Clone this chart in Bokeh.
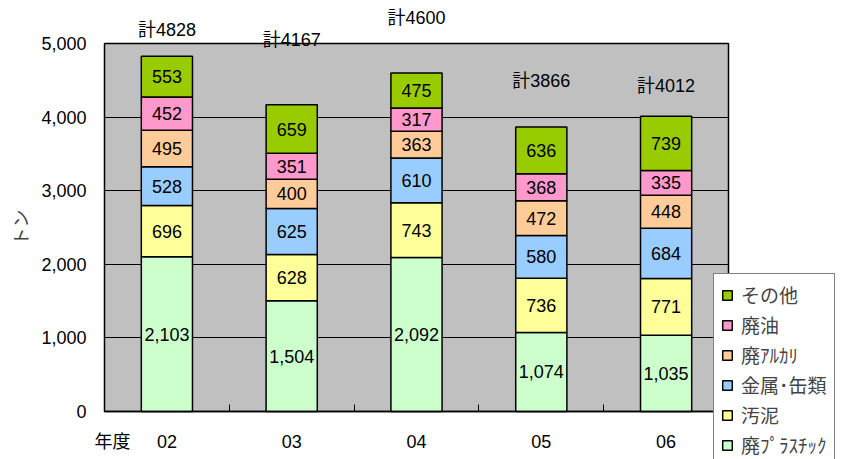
from bokeh.plotting import figure
from bokeh.models import (Range1d, FixedTicker, NumeralTickFormatter, Legend, LegendItem,
                          ColumnDataSource, Label)
from bokeh.embed import file_html
from bokeh.resources import INLINE
from bokeh.core.properties import value
import numpy as np

years = ["02", "03", "04", "05", "06"]
series_names = ["廃ﾌﾟﾗｽﾁｯｸ", "汚泥", "金属･缶類", "廃ｱﾙｶﾘ", "廃油", "その他"]
plastic = [2103, 1504, 2092, 1074, 1035]
sludge = [696, 628, 743, 736, 771]
metal = [528, 625, 610, 580, 684]
alkali = [495, 400, 363, 472, 448]
oil = [452, 351, 317, 368, 335]
other = [553, 659, 475, 636, 739]
totals = [4828, 4167, 4600, 3866, 4012]
y_ticks = [0, 1000, 2000, 3000, 4000, 5000]

colors = ["#ccffcc", "#ffff99", "#99ccff", "#ffcc99", "#ff99cc", "#99cc00"]
# vertical placement of the total labels (data units), as in the original layout
total_label_y = [5177, 5041, 5340, 4497, 4429]

JP = "Noto Sans CJK JP"
NUM = "Liberation Sans"
MIX = "Liberation Sans, Noto Sans CJK JP"
series = [plastic, sludge, metal, alkali, oil, other]
xs = list(range(1, len(years) + 1))
n = len(years)
ymax = y_ticks[-1]

# pixel geometry of the plotting area inside the 841x459 canvas
W, H = 841, 459
left_px, right_px, top_px, bottom_px = 104, 728, 43, 411
ux = (right_px - left_px) / n            # px per category
uy = (bottom_px - top_px) / ymax         # px per ton
x0 = 0.5 - left_px / ux
x1 = n + 0.5 + (W - right_px) / ux
y0 = -(H - bottom_px) / uy
y1 = ymax + top_px / uy

p = figure(width=W, height=H, output_backend="svg", toolbar_location=None,
           x_range=Range1d(x0, x1), y_range=Range1d(y0, y1),
           min_border=0, min_border_left=0, min_border_right=0,
           min_border_top=0, min_border_bottom=0)
p.background_fill_color = "white"
p.border_fill_color = "white"
p.outline_line_color = None

# gray plot area
p.quad(left=[0.5], right=[n + 0.5], bottom=[0], top=[ymax], fill_color="#c0c0c0",
       line_color="black", line_width=1.5, level="image")

data = {"x": xs}
keys = []
for i, s in enumerate(series):
    k = f"s{i}"
    data[k] = s
    keys.append(k)
src = ColumnDataSource(data)
renderers = p.vbar_stack(keys, x="x", width=0.41, source=src, fill_color=colors,
                         line_color="black", line_width=1.5)

# segment labels
bottoms = np.zeros(n)
for s in series:
    arr = np.array(s, dtype=float)
    mids = bottoms + arr / 2
    lsrc = ColumnDataSource(dict(x=xs, y=mids, t=[f"{v:,}" for v in s]))
    p.text(x="x", y="y", text="t", source=lsrc, text_align="center", text_baseline="middle",
           text_font=value(NUM), text_font_size="18px", text_color="black")
    bottoms = bottoms + arr

for x, t, ly in zip(xs, totals, total_label_y):
    p.add_layout(Label(x=x, y=ly, text=f"計{t}", text_align="center", text_baseline="middle",
                       text_font=MIX, text_font_size="18px", text_color="black"))

# axes (drawn inside the frame at fixed data locations)
p.yaxis.fixed_location = 0.5
p.yaxis.bounds = (0, ymax)
p.yaxis.ticker = FixedTicker(ticks=y_ticks)
p.yaxis.formatter = NumeralTickFormatter(format="0,0")
p.yaxis.major_tick_line_color = None
p.yaxis.minor_tick_line_color = None
p.yaxis.major_tick_in = 0
p.yaxis.major_tick_out = 0
p.yaxis.major_label_standoff = 18
p.yaxis.axis_label = "トン"
p.yaxis.axis_label_text_font = JP
p.yaxis.axis_label_text_font_size = "18px"
p.yaxis.axis_label_text_font_style = "normal"
p.yaxis.axis_label_standoff = 5
p.yaxis.major_label_text_font = NUM
p.yaxis.major_label_text_font_size = "18px"
p.yaxis.major_label_text_color = "black"
p.yaxis.axis_line_color = None

nendo_x = 0.5 + 8 / ux
p.xaxis.fixed_location = 0
p.xaxis.bounds = (0.5, n + 0.5)
p.xaxis.ticker = FixedTicker(ticks=[nendo_x] + xs, minor_ticks=[x + 0.5 for x in xs[:-1]])
overrides = {x: y for x, y in zip(xs, years)}
overrides[nendo_x] = "年度"
p.xaxis.major_label_overrides = overrides
p.xaxis.major_tick_line_color = None
p.xaxis.major_tick_in = 0
p.xaxis.major_tick_out = 0
p.xaxis.minor_tick_in = 7
p.xaxis.minor_tick_out = 0
p.xaxis.minor_tick_line_color = "black"
p.xaxis.major_label_standoff = 20
p.xaxis.major_label_text_font = MIX
p.xaxis.major_label_text_font_size = "18px"
p.xaxis.major_label_text_color = "black"
p.xaxis.axis_line_color = "black"
p.xaxis.axis_line_width = 1.5

p.xgrid.grid_line_color = None
p.ygrid.ticker = FixedTicker(ticks=y_ticks)
p.ygrid.cross_bounds = (0.5, n + 0.5)
p.ygrid.grid_line_color = "black"
p.ygrid.grid_line_width = 1

items = [LegendItem(label=nm, renderers=[r]) for nm, r in zip(series_names, renderers)][::-1]
legend = Legend(items=items, location=(713, -7), orientation="vertical",
                label_text_font=JP, label_text_font_size="19px",
                glyph_width=12, glyph_height=12, label_standoff=8,
                label_height=20, spacing=3, padding=7, margin=0,
                border_line_color="black", border_line_width=1,
                background_fill_color="white", background_fill_alpha=1)
p.add_layout(legend, "center")

open("out.html", "w").write(file_html(p, INLINE))
